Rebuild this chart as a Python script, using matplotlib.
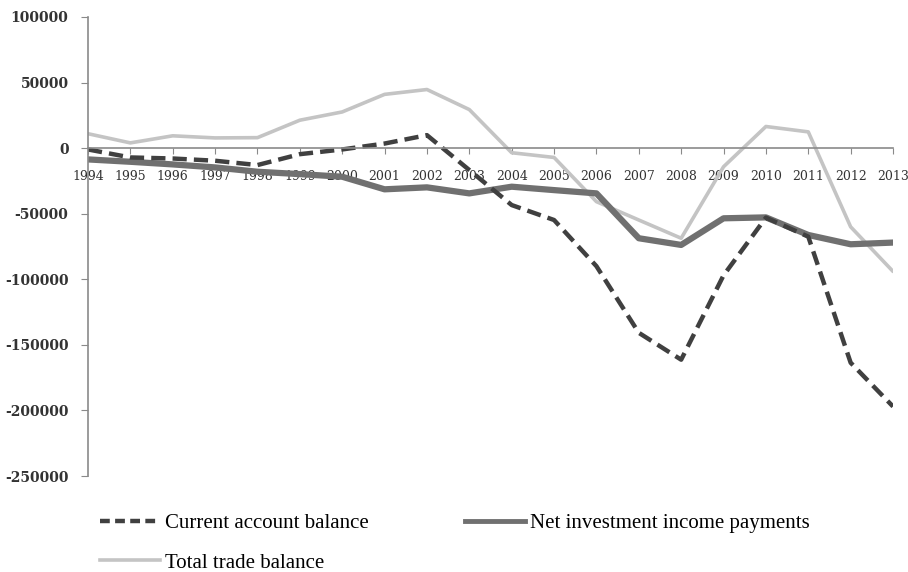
import matplotlib.pyplot as plt
from matplotlib.lines import Line2D

years = list(range(1994, 2014))

current_account = [-1000, -7100, -7900, -9600, -12900, -4600, -1000, 3500, 9900, -16700,
                   -43400, -54800, -90000, -140800, -161300, -97000, -53000, -67500, -163600, -197000]
net_investment = [-8600, -10400, -12400, -14700, -18000, -19800, -21800, -31400, -29900, -34500,
                  -29400, -32000, -34500, -68700, -73800, -53500, -52800, -66200, -73300, -72000]
trade_balance = [11000, 4000, 9400, 7800, 8000, 21300, 27600, 41000, 44700, 29400,
                 -3500, -7100, -40800, -54800, -68700, -14200, 16500, 12400, -60000, -94000]

y_ticks = list(range(-250000, 100001, 50000))

fig = plt.figure(figsize=(9.08, 5.72), dpi=100)
ax = fig.add_axes([0.0969, 0.1678, 0.8866, 0.8025])

ax.plot(years, trade_balance, color='#c4c4c4', lw=2.6, solid_capstyle='round')
ax.plot(years, net_investment, color='#707070', lw=4.5, solid_capstyle='round')
ax.plot(years, current_account, color='#404040', lw=3.2, dashes=(3.2, 1.6))

ax.set_xlim(1994, 2013)
ax.set_ylim(-250000, 100000)
ax.set_yticks(y_ticks)
ax.set_yticklabels([str(v) for v in y_ticks])
ax.set_xticks(years)
ax.set_xticklabels([str(y) for y in years])

# x axis sits on the zero line
ax.spines['bottom'].set_position(('data', 0))
ax.spines['top'].set_visible(False)
ax.spines['right'].set_visible(False)
for s in ('left', 'bottom'):
    ax.spines[s].set_color('#8a8a8a')
    ax.spines[s].set_linewidth(1.2)

ax.tick_params(axis='y', direction='out', length=5, color='#8a8a8a', pad=9,
               labelsize=10, labelcolor='#333333')
ax.tick_params(axis='x', direction='out', length=4, color='#8a8a8a', pad=12,
               labelsize=9, labelcolor='#333333')
for lab in ax.get_yticklabels():
    lab.set_family('DejaVu Serif')
    lab.set_fontweight('bold')
for lab in ax.get_xticklabels():
    lab.set_family('DejaVu Serif')

handles = [
    Line2D([], [], color='#404040', lw=3.2, dashes=(2.2, 1.2)),
    Line2D([], [], color='#c4c4c4', lw=2.6),
    Line2D([], [], color='#707070', lw=3.5),
]
labels = ['Current account balance', 'Total trade balance', 'Net investment income payments']
fig.legend(handles, labels, ncol=2, loc='lower left', bbox_to_anchor=(0.089, -0.034),
           frameon=False, handlelength=2.9, handletextpad=0.25, columnspacing=4.6,
           labelspacing=0.97, prop={'family': 'Liberation Serif', 'size': 15})

fig.savefig('out.png', dpi=100)
